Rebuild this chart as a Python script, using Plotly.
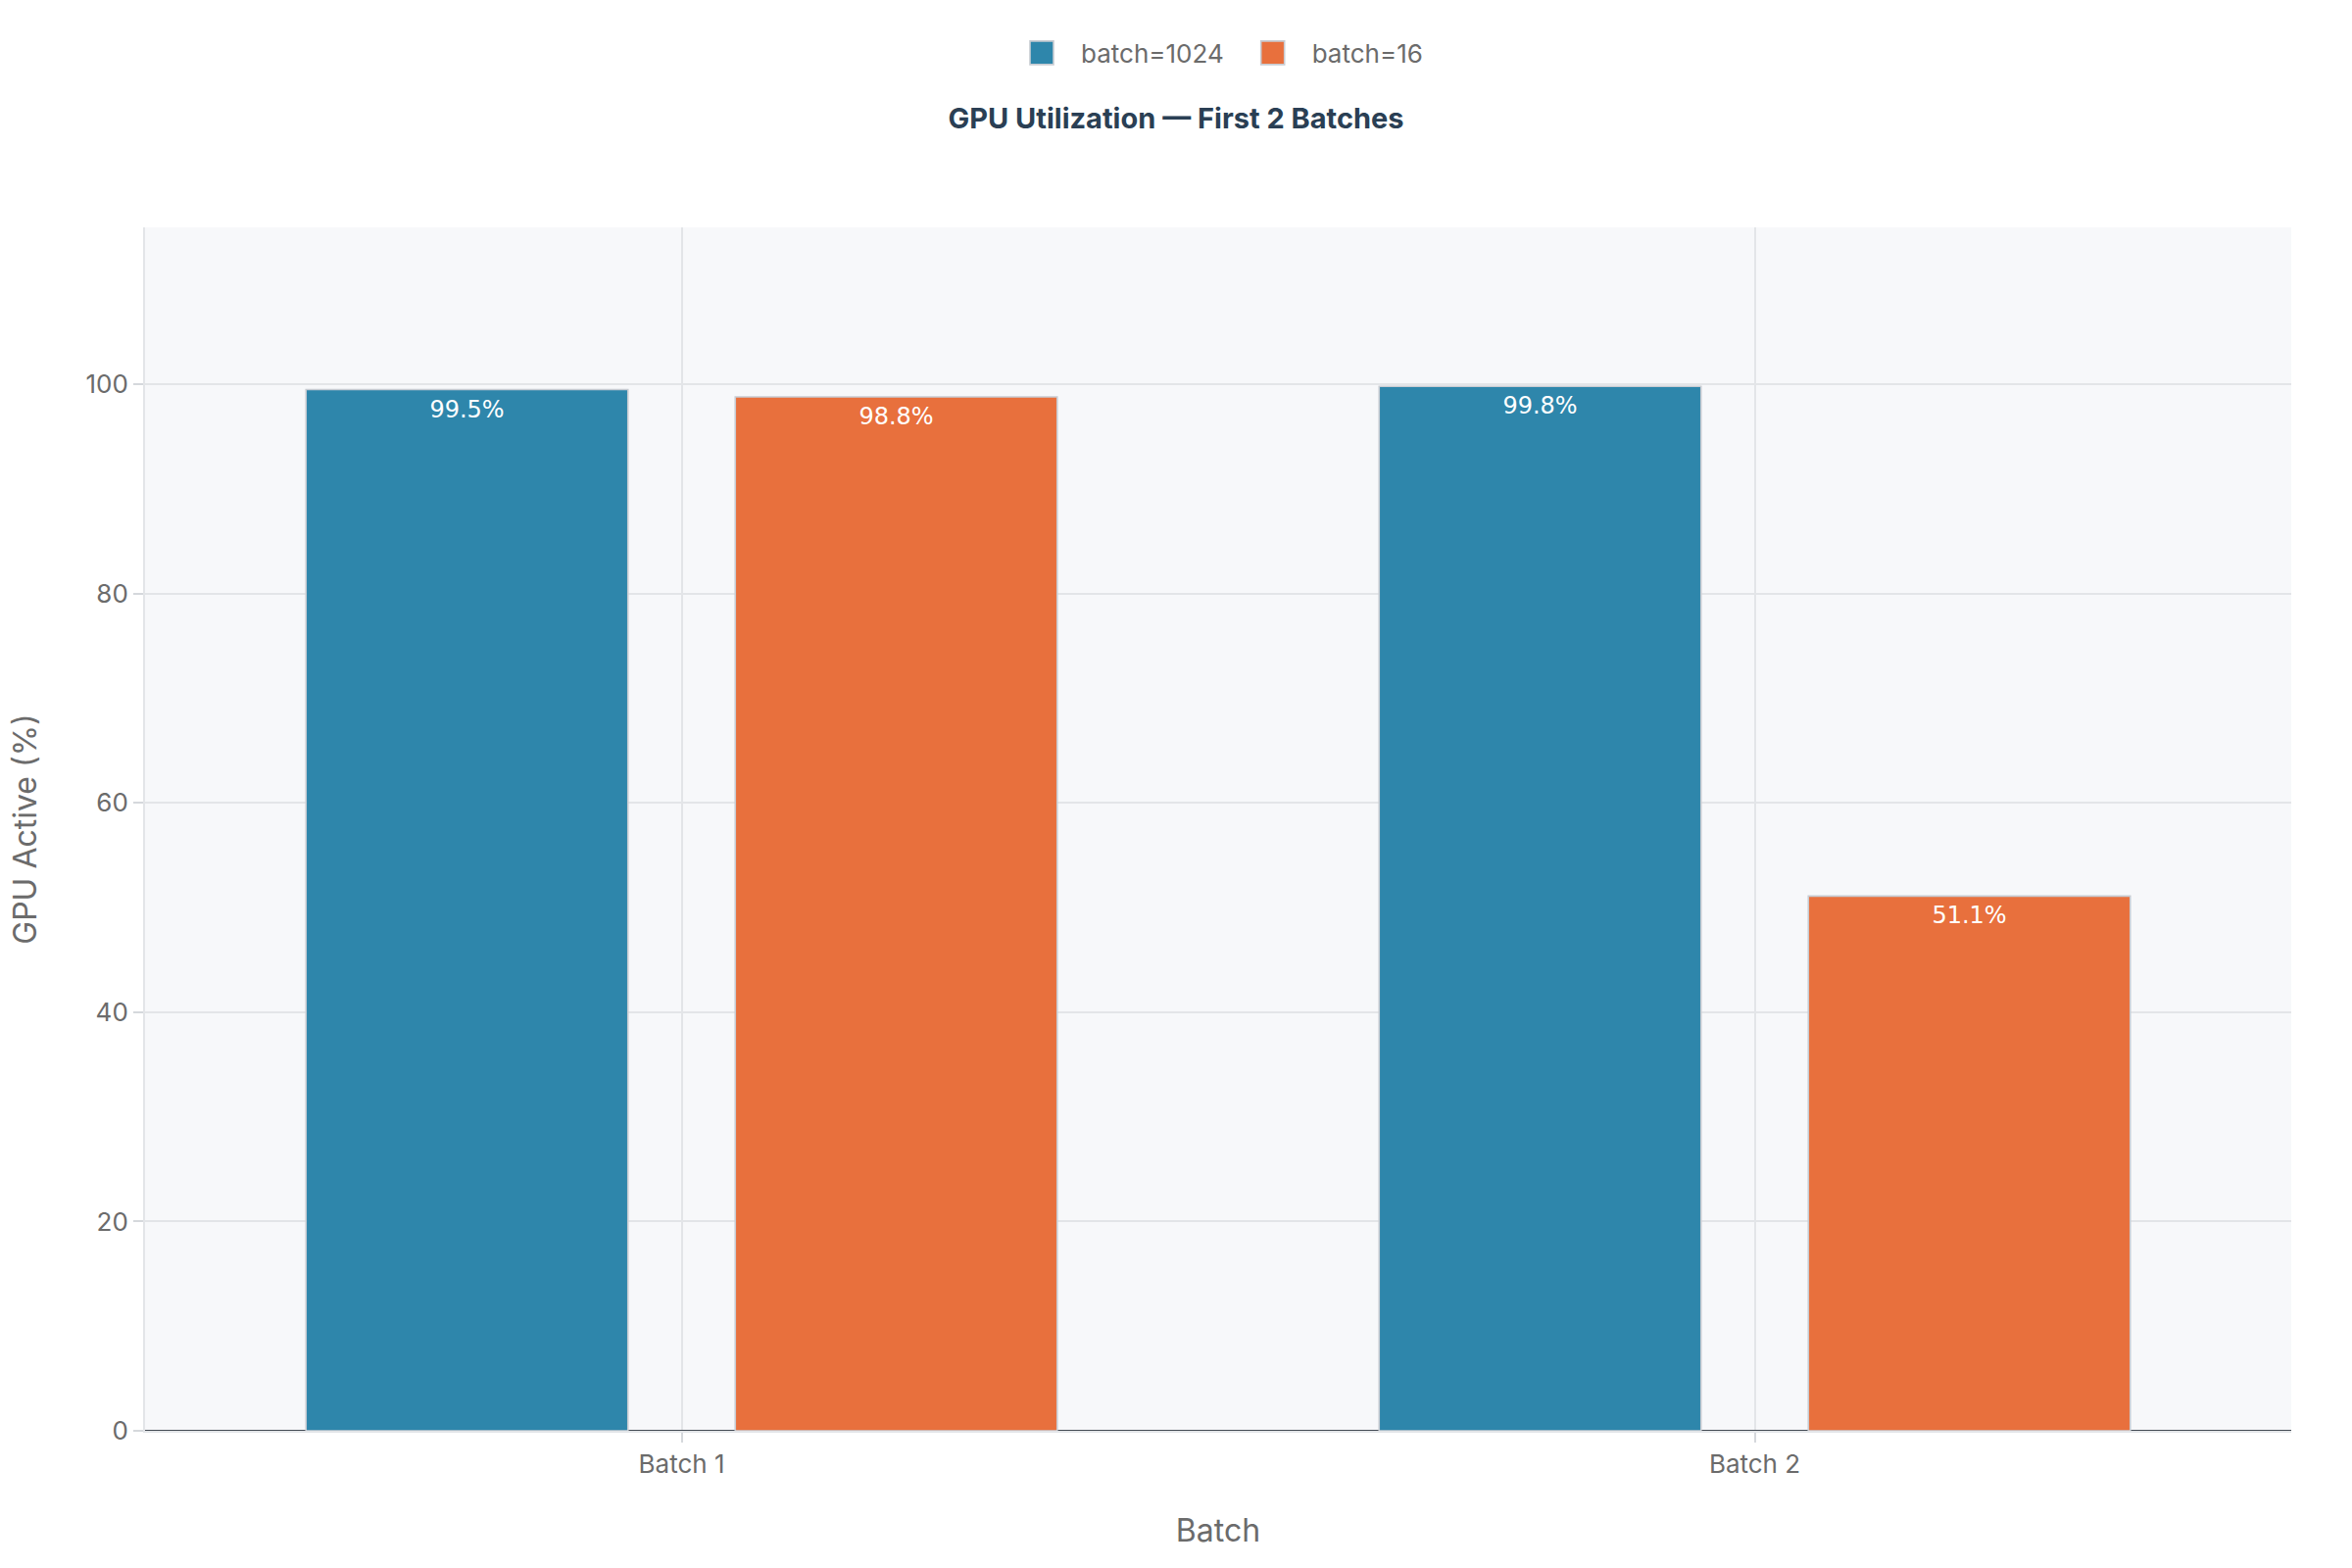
import plotly.graph_objects as go

categories = ["Batch 1", "Batch 2"]
series_names = ["batch=1024", "batch=16"]
values_1024 = [99.5, 99.8]
values_16 = [98.8, 51.1]
colors = ["#2E86AB", "#E8703D"]

FONT = "Inter"
W, H = 1200, 800  # rendered at 2x (like a scale=2 export)

fig = go.Figure()
for name, vals, col in zip(series_names, [values_1024, values_16], colors):
    fig.add_trace(go.Bar(
        x=categories, y=vals, name=name,
        marker=dict(color=col, line=dict(color="#C8CCD2", width=0.8)),
        text=[f"{v:.1f}%" for v in vals],
        textposition="inside", insidetextanchor="end",
        textfont=dict(family="DejaVu Sans", size=12, color="white"),
    ))

fig.update_layout(
    width=W, height=H,
    paper_bgcolor="white", plot_bgcolor="#F7F8FA",
    font=dict(family=FONT, size=13, color="#6B6B6B"),
    title=dict(text="<b>GPU Utilization — First 2 Batches</b>", x=0.5, xanchor="center",
               y=1 - 60.5 / H, yanchor="middle",
               font=dict(family=FONT, size=14.5, color="#2A3F54")),
    legend=dict(orientation="h", x=0.5, xanchor="center", y=1 - 27 / H, yref="container",
                yanchor="middle", font=dict(family=FONT, size=13, color="#6B6B6B"),
                traceorder="normal"),
    margin=dict(l=73.5, r=30.5, t=116, b=69.5),
    barmode="group", bargap=0.2, bargroupgap=0.25,
    xaxis=dict(title=dict(text="Batch", font=dict(size=16, color="#6B6B6B"), standoff=21),
               showgrid=True, gridcolor="#E3E5E8", gridwidth=0.8,
               ticks="outside", ticklen=5, tickcolor="#D5D8DC", tickwidth=1,
               tickfont=dict(size=13, color="#6B6B6B"),
               showline=True, linecolor="#E3E5E8", linewidth=1),
    yaxis=dict(title=dict(text="GPU Active (%)", font=dict(size=16, color="#6B6B6B"), standoff=20),
               range=[0, 115], dtick=20,
               showgrid=True, gridcolor="#E3E5E8", gridwidth=0.8,
               ticks="outside", ticklen=5, tickcolor="#D5D8DC", tickwidth=1,
               tickfont=dict(size=13, color="#6B6B6B"),
               showline=True, linecolor="#E3E5E8", linewidth=1,
               zeroline=True, zerolinecolor="#444B55", zerolinewidth=1),
)

fig.write_html(
    "out.html",
    post_script="document.body.style.margin='0'; document.body.style.zoom='2';",
)
